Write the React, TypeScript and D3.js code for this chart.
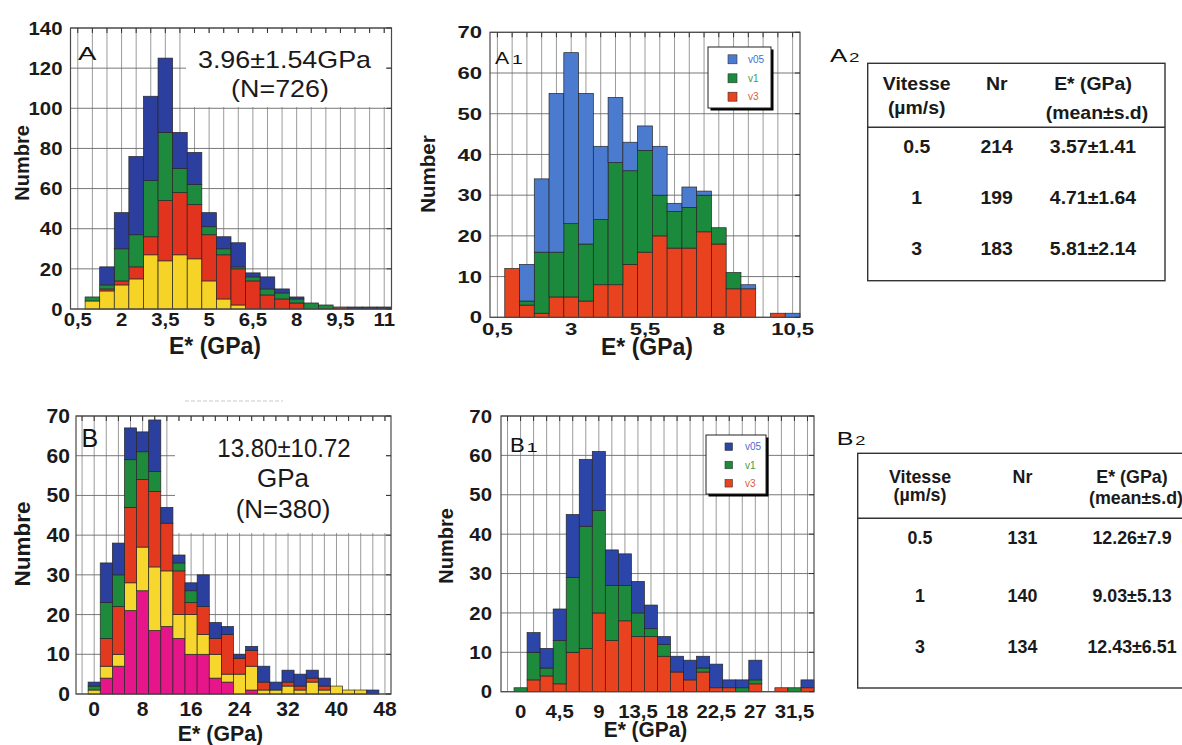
import React from 'react';
import * as d3 from 'd3';

const FONT = "'Liberation Sans', Arial, Helvetica, sans-serif";

// ---------- Panel A : all indentations, 0.5 GPa bins ----------
const binsA = [1, 1.5, 2, 2.5, 3, 3.5, 4, 4.5, 5, 5.5, 6, 6.5, 7, 7.5, 8, 8.5, 9, 9.5, 10, 10.5, 11];
const yellowA = [4, 9, 12, 15, 27, 24, 27, 25, 14, 5, 2, 0, 0, 0, 0, 0, 0, 0, 0, 0, 0];
const redA = [0, 1, 2, 6, 9, 30, 31, 27, 23, 22, 18, 14, 7, 5, 3, 0, 0, 1, 0, 0, 0];
const greenA = [2, 2, 16, 16, 28, 34, 12, 10, 4, 3, 1, 2, 3, 3, 2, 3, 2, 0, 0, 0, 0];
const blueA = [0, 9, 18, 39, 42, 37, 18, 16, 7, 6, 12, 2, 6, 2, 1, 0, 0, 0, 1, 1, 1];
const ticksXA = [0.5, 2, 3.5, 5, 6.5, 8, 9.5, 11];
const ticksYA = [0, 20, 40, 60, 80, 100, 120, 140];

// ---------- Panel A1 : by loading speed ----------
const binsA1 = [1, 1.5, 2, 2.5, 3, 3.5, 4, 4.5, 5, 5.5, 6, 6.5, 7, 7.5, 8, 8.5, 9, 9.5, 10, 10.5];
const v3A1 = [12, 3, 1, 5, 5, 4, 8, 8, 13, 16, 20, 17, 17, 21, 18, 7, 7, 0, 1, 0];
const v1A1 = [0, 1, 15, 11, 18, 14, 16, 30, 23, 25, 10, 9, 10, 9, 4, 4, 0, 0, 0, 0];
const v05A1 = [0, 9, 18, 39, 42, 37, 18, 16, 7, 6, 12, 2, 5, 1, 0, 0, 1, 0, 0, 1];
const ticksXA1 = [0.5, 3, 5.5, 8, 10.5];
const ticksY70 = [0, 10, 20, 30, 40, 50, 60, 70];

// ---------- Panel B : all indentations, 2 GPa bins ----------
const binsB = [0, 2, 4, 6, 8, 10, 12, 14, 16, 18, 20, 22, 24, 26, 28, 30, 32, 34, 36, 38, 40, 42, 44, 46];
const magentaB = [0, 4, 7, 21, 26, 16, 17, 14, 10, 10, 4, 3, 0, 1, 0, 0, 0, 0, 0, 0, 0, 0, 0, 0];
const yellowB = [1, 3, 3, 7, 11, 16, 14, 6, 10, 5, 6, 2, 5, 6, 1, 1, 2, 1, 3, 1, 2, 1, 1, 0];
const redB = [0, 7, 12, 19, 17, 19, 12, 11, 3, 7, 4, 10, 4, 4, 2, 0, 1, 1, 1, 1, 0, 0, 0, 0];
const greenB = [1, 9, 8, 12, 7, 5, 0, 2, 3, 0, 0, 0, 0, 0, 0, 0, 0, 0, 0, 0, 0, 0, 0, 0];
const blueB = [1, 10, 8, 8, 5, 13, 4, 2, 2, 8, 4, 2, 1, 1, 4, 2, 3, 3, 2, 2, 0, 0, 0, 1];
const ticksXB = [0, 8, 16, 24, 32, 40, 48];

// ---------- Panel B1 : by loading speed, 1.5 GPa bins ----------
const binsB1 = [0, 1.5, 3, 4.5, 6, 7.5, 9, 10.5, 12, 13.5, 15, 16.5, 18, 19.5, 21, 22.5, 24, 25.5, 27, 28.5, 30, 31.5, 33];
const v3B1 = [0, 3, 4, 2, 10, 11, 20, 13, 18, 14, 14, 9, 5, 3, 5, 1, 1, 0, 2, 0, 1, 0, 1];
const v1B1 = [1, 7, 2, 11, 19, 31, 26, 14, 9, 6, 2, 3, 0, 0, 1, 0, 0, 1, 1, 0, 0, 1, 0];
const v05B1 = [0, 5, 5, 8, 16, 17, 15, 9, 8, 8, 6, 2, 4, 5, 3, 6, 2, 2, 5, 0, 0, 0, 2];
const ticksXB1 = [0, 4.5, 9, 13.5, 18, 22.5, 27, 31.5];

// ---------- Tables A2 / B2 ----------
const vitesse = ['0.5', '1', '3'];
const nrA2 = ['214', '199', '183'];
const eA2 = ['3.57±1.41', '4.71±1.64', '5.81±2.14'];
const nrB2 = ['131', '140', '134'];
const eB2 = ['12.26±7.9', '9.03±5.13', '12.43±6.51'];

const legendKeys = ['v05', 'v1', 'v3'];
const legendText = ['#4a6ed0', '#3c9c4c', '#d95a3e'];

type Layer = { key: string; values: number[]; color: string };

function T({ x, y, size, sx = 1, anchor = 'middle', weight = 700, fill = '#1a1a1a', rot = 0, children }: any) {
  return (
    <text
      transform={`translate(${x},${y}) rotate(${rot}) scale(${sx},1)`}
      fontSize={size}
      fontWeight={weight}
      textAnchor={anchor}
      fill={fill}
      fontFamily={FONT}
    >
      {children}
    </text>
  );
}

const fmt = (v: number) => String(v).replace('.', ',');

function Histogram(p: any) {
  const { frame, xDomain, yMax, bins, binWidth, layers, gridStart, gridStep, xTicks, yTicks, tick, box } = p;
  const x = d3.scaleLinear().domain(xDomain).range([frame.x0, frame.x1]);
  const y = d3.scaleLinear().domain([0, yMax]).range([frame.y1, frame.y0]);
  const rows = bins.map((b: number, i: number) => {
    const r: any = { bin: b };
    (layers as Layer[]).forEach((l) => (r[l.key] = l.values[i]));
    return r;
  });
  const series = d3.stack<any>().keys((layers as Layer[]).map((l) => l.key))(rows);
  const grid = d3.range(gridStart, xDomain[1] + 1e-9, gridStep);
  return (
    <g>
      {grid.map((g: number, i: number) => (
        <line key={'v' + i} x1={x(g)} x2={x(g)} y1={frame.y0} y2={frame.y1} stroke="#8f8f8f" strokeWidth={0.9} />
      ))}
      {yTicks.map((t: number, i: number) => (
        <line key={'h' + i} x1={frame.x0} x2={frame.x1} y1={y(t)} y2={y(t)} stroke="#6a6a6a" strokeWidth={0.9} />
      ))}
      {box && <rect x={box.x} y={box.y} width={box.w} height={box.h} fill="#fff" />}
      {series.map((s: any, si: number) =>
        s.map((d: any, i: number) => {
          if (d[1] - d[0] <= 0) return null;
          const b = d.data.bin;
          return (
            <rect
              key={si + '-' + i}
              x={x(b - binWidth / 2)}
              width={x(b + binWidth / 2) - x(b - binWidth / 2)}
              y={y(d[1])}
              height={y(d[0]) - y(d[1])}
              fill={(layers as Layer[])[si].color}
              stroke="#262626"
              strokeWidth={0.7}
            />
          );
        })
      )}
      <rect x={frame.x0} y={frame.y0} width={frame.x1 - frame.x0} height={frame.y1 - frame.y0} fill="none" stroke="#4a4a4a" strokeWidth={1.2} />
      {grid.map((g: number, i: number) => (
        <line key={'tt' + i} x1={x(g)} x2={x(g)} y1={frame.y0} y2={frame.y0 + 5} stroke="#333" strokeWidth={1} />
      ))}
      {yTicks.map((t: number, i: number) => (
        <line key={'rt' + i} x1={frame.x1 - 5} x2={frame.x1} y1={y(t)} y2={y(t)} stroke="#333" strokeWidth={1} />
      ))}
      {xTicks.map((t: number, i: number) => (
        <T key={'xl' + i} x={x(t)} y={tick.xBase} size={tick.size} sx={tick.sx}>
          {fmt(t)}
        </T>
      ))}
      {yTicks.map((t: number, i: number) => (
        <T key={'yl' + i} x={frame.x0 - tick.gap} y={y(t) + tick.size * 0.36} size={tick.size} sx={tick.sx} anchor="end">
          {String(t)}
        </T>
      ))}
    </g>
  );
}

function Legend({ x, y, w, h, sq, rows, colors, textX, size }: any) {
  return (
    <g>
      <rect x={x + 2.5} y={y + 2.5} width={w} height={h} fill="#000" />
      <rect x={x} y={y} width={w} height={h} fill="#fff" stroke="#222" strokeWidth={1} />
      {legendKeys.map((k, i) => (
        <g key={k}>
          <rect x={sq.x} y={rows[i] - sq.s / 2} width={sq.s} height={sq.s} fill={colors[i]} stroke="#333" strokeWidth={0.6} />
          <T x={textX} y={rows[i] + size * 0.36} size={size} weight={400} anchor="start" fill={legendText[i]}>
            {k}
          </T>
        </g>
      ))}
    </g>
  );
}

function PanelLabel({ x, y, letter, digit, size, sx, dSize, dSx, dx }: any) {
  return (
    <g>
      <T x={x} y={y} size={size} sx={sx} weight={400} anchor="start" fill="#111">
        {letter}
      </T>
      {digit && (
        <T x={x + dx} y={y} size={dSize} sx={dSx} weight={400} anchor="start" fill="#111">
          {digit}
        </T>
      )}
    </g>
  );
}

function Table({ box, sepY, cols, head1, head2, rows, nr, e, s = 18, sx = 1.08 }: any) {
  return (
    <g>
      <rect x={box.x} y={box.y} width={box.w} height={box.h} fill="#fff" stroke="#333" strokeWidth={1.4} />
      <line x1={box.x} x2={box.x + box.w} y1={sepY} y2={sepY} stroke="#333" strokeWidth={1.4} />
      <T x={cols[0]} y={head1} size={s} sx={sx}>Vitesse</T>
      <T x={cols[0]} y={head2[0]} size={s} sx={sx}>(µm/s)</T>
      <T x={cols[1]} y={head1} size={s} sx={sx}>Nr</T>
      <T x={cols[2]} y={head1} size={s} sx={sx}>E* (GPa)</T>
      <T x={cols[2] + 4} y={head2[1]} size={s} sx={sx}>(mean±s.d)</T>
      {vitesse.map((v, i) => (
        <g key={v}>
          <T x={cols[0]} y={rows[i]} size={s} sx={sx}>{v}</T>
          <T x={cols[1]} y={rows[i]} size={s} sx={sx}>{nr[i]}</T>
          <T x={cols[2]} y={rows[i]} size={s} sx={sx}>{e[i]}</T>
        </g>
      ))}
    </g>
  );
}

export default function App() {
  const layersA: Layer[] = [
    { key: 'y', values: yellowA, color: '#f6d327' },
    { key: 'r', values: redA, color: '#e2331f' },
    { key: 'g', values: greenA, color: '#1d8a3e' },
    { key: 'b', values: blueA, color: '#2c3f9f' },
  ];
  const layersA1: Layer[] = [
    { key: 'v3', values: v3A1, color: '#e8421e' },
    { key: 'v1', values: v1A1, color: '#1b8a3c' },
    { key: 'v05', values: v05A1, color: '#4a7bcf' },
  ];
  const layersB: Layer[] = [
    { key: 'm', values: magentaB, color: '#e6168a' },
    { key: 'y', values: yellowB, color: '#f7d62e' },
    { key: 'r', values: redB, color: '#e33a1f' },
    { key: 'g', values: greenB, color: '#1e8a3c' },
    { key: 'b', values: blueB, color: '#2b3f9f' },
  ];
  const layersB1: Layer[] = [
    { key: 'v3', values: v3B1, color: '#e8421e' },
    { key: 'v1', values: v1B1, color: '#1e8a3c' },
    { key: 'v05', values: v05B1, color: '#2b45a8' },
  ];

  return (
    <svg width={1182} height={745} style={{ position: 'absolute', left: 0, top: 0, background: '#fff' }}>
      <rect x={0} y={0} width={1182} height={745} fill="#fff" />

      {/* A */}
      <Histogram
        frame={{ x0: 70.5, x1: 391.5, y0: 28, y1: 309 }}
        xDomain={[0.25, 11.25]}
        yMax={140}
        bins={binsA}
        binWidth={0.5}
        layers={layersA}
        gridStart={0.5}
        gridStep={0.5}
        xTicks={ticksXA}
        yTicks={ticksYA}
        tick={{ size: 18.5, sx: 1.1, xBase: 326, gap: 8 }}
        box={{ x: 186, y: 33, w: 200, h: 74 }}
      />
      <PanelLabel x={78} y={60} letter="A" size={19} sx={1.45} />
      <T x={284.5} y={68} size={24} sx={1.12} weight={400}>3.96±1.54GPa</T>
      <T x={280} y={97} size={24} sx={1.12} weight={400}>(N=726)</T>
      <T x={29} y={163} size={20} rot={-90}>Numbre</T>
      <T x={215} y={354} size={23}>E* (GPa)</T>

      {/* A1 */}
      <Histogram
        frame={{ x0: 490, x1: 800, y0: 32.3, y1: 317.3 }}
        xDomain={[0.25, 10.75]}
        yMax={70}
        bins={binsA1}
        binWidth={0.5}
        layers={layersA1}
        gridStart={0.5}
        gridStep={0.5}
        xTicks={ticksXA1}
        yTicks={ticksY70}
        tick={{ size: 17, sx: 1.3, xBase: 335, gap: 8 }}
      />
      <Legend
        x={708}
        y={47}
        w={63}
        h={61}
        sq={{ x: 728, s: 9 }}
        rows={[59.3, 78.3, 96.7]}
        colors={['#4a7bcf', '#1b8a3c', '#e8421e']}
        textX={748}
        size={10}
      />
      <PanelLabel x={495} y={64} letter="A" size={17} sx={1.25} digit="1" dSize={12} dSx={1.6} dx={17} />
      <T x={435} y={174} size={20.5} rot={-90}>Number</T>
      <T x={647} y={355} size={23}>E* (GPa)</T>

      {/* A2 */}
      <PanelLabel x={830} y={61.7} letter="A" size={18.6} sx={1.4} digit="2" dSize={12.5} dSx={1.5} dx={19} />
      <Table
        box={{ x: 867.7, y: 63.3, w: 297.3, h: 217.4 }}
        sepY={127.3}
        cols={[916.7, 996.7, 1093]}
        head1={90}
        head2={[114, 119]}
        rows={[153, 204, 255]}
        nr={nrA2}
        e={eA2}
      />

      {/* B */}
      <line x1={185} x2={283} y1={401} y2={401} stroke="#c9c9c9" strokeWidth={1.2} strokeDasharray="4 2" />
      <Histogram
        frame={{ x0: 76, x1: 391, y0: 416, y1: 694 }}
        xDomain={[-3, 49]}
        yMax={70}
        bins={binsB}
        binWidth={2}
        layers={layersB}
        gridStart={-2}
        gridStep={2}
        xTicks={ticksXB}
        yTicks={ticksY70}
        tick={{ size: 19.5, sx: 1.08, xBase: 716, gap: 6 }}
        box={{ x: 175, y: 421, w: 211, h: 112 }}
      />
      <PanelLabel x={81.5} y={447} letter="B" size={25} sx={1.0} />
      <T x={284} y={456.7} size={25} sx={0.96} weight={400}>13.80±10.72</T>
      <T x={283} y={487} size={25} sx={1.04} weight={400}>GPa</T>
      <T x={283} y={518} size={25} sx={1.04} weight={400}>(N=380)</T>
      <T x={30} y={544} size={22.5} rot={-90}>Numbre</T>
      <T x={220.5} y={741} size={22} sx={0.97}>E* (GPa)</T>

      {/* B1 */}
      <Histogram
        frame={{ x0: 501, x1: 814, y0: 416, y1: 691.7 }}
        xDomain={[-2.25, 33.75]}
        yMax={70}
        bins={binsB1}
        binWidth={1.5}
        layers={layersB1}
        gridStart={-1.5}
        gridStep={1.5}
        xTicks={ticksXB1}
        yTicks={ticksY70}
        tick={{ size: 18.5, sx: 1.1, xBase: 718, gap: 9 }}
      />
      <Legend
        x={706}
        y={435}
        w={60}
        h={59}
        sq={{ x: 725, s: 7.5 }}
        rows={[446.7, 465, 483.3]}
        colors={['#2b45a8', '#1e8a3c', '#e8421e']}
        textX={745}
        size={10}
      />
      <PanelLabel x={510} y={451.7} letter="B" size={21} sx={1.05} digit="1" dSize={12.5} dSx={1.6} dx={16.5} />
      <T x={453} y={546} size={20} rot={-90}>Numbre</T>
      <T x={645.5} y={737} size={22} sx={0.95}>E* (GPa)</T>

      {/* B2 */}
      <PanelLabel x={836.7} y={445} letter="B" size={18.6} sx={1.35} digit="2" dSize={13} dSx={1.4} dx={18.5} />
      <Table
        box={{ x: 857.7, y: 453.3, w: 340, h: 234.7 }}
        sepY={518.3}
        cols={[920, 1022.5, 1132]}
        head1={483}
        head2={[501, 504]}
        rows={[544, 601.7, 653.3]}
        nr={nrB2}
        e={eB2}
        s={17.5}
        sx={1.02}
      />
    </svg>
  );
}
